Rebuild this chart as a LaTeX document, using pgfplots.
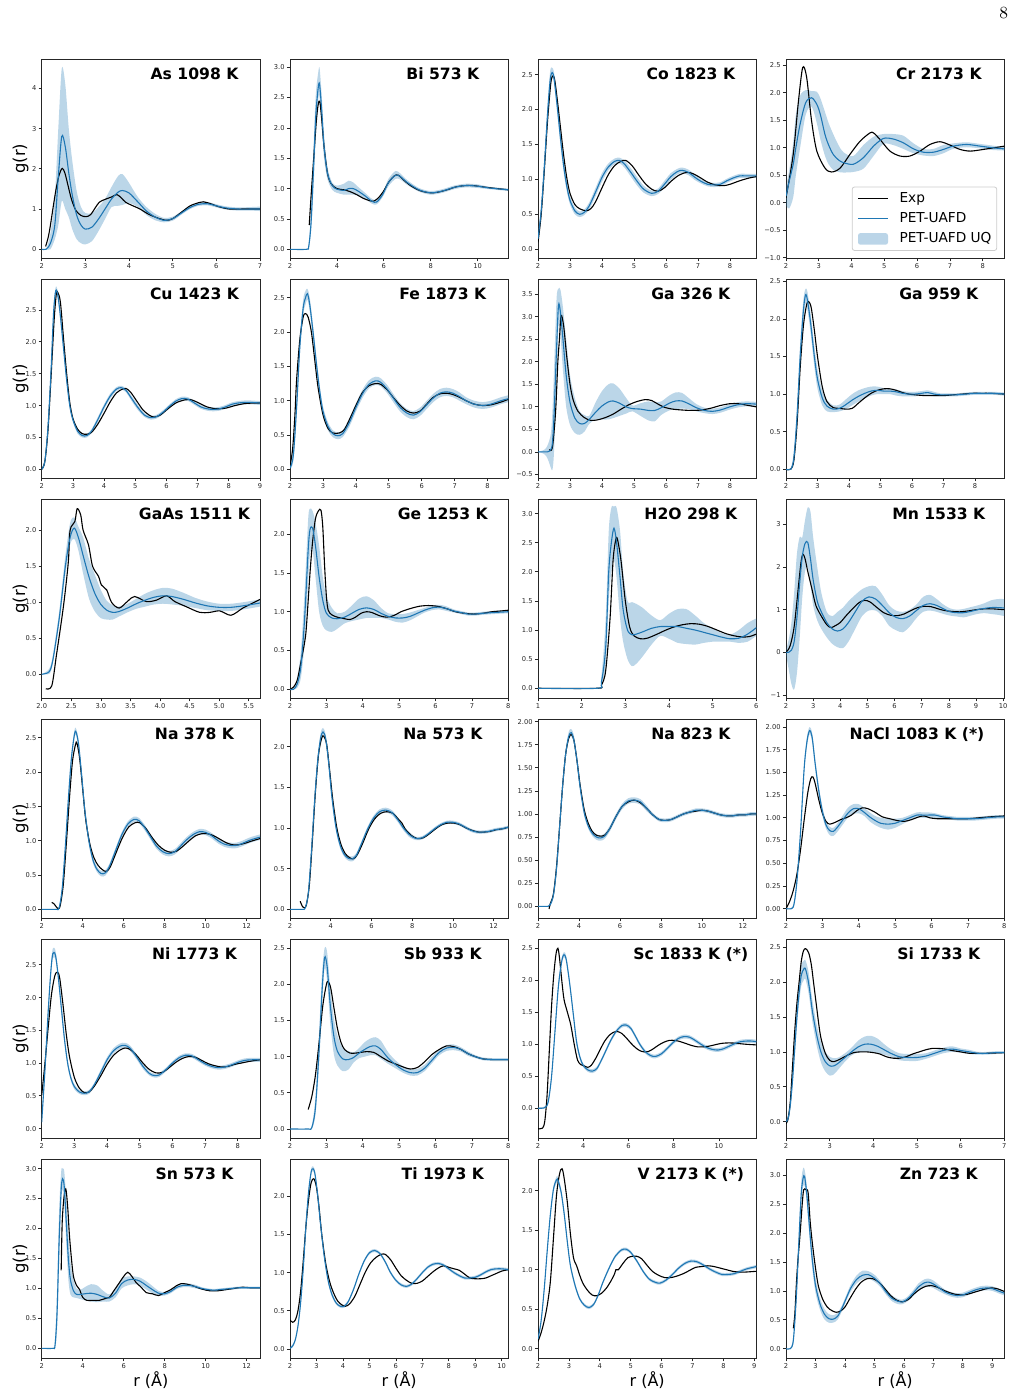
\documentclass[border=0pt]{standalone}
\usepackage{pgfplots}
\pgfplotsset{compat=1.18}
\usepackage{pgfplotstable}
\usepgfplotslibrary{fillbetween}
\usepackage{fontspec}
\newfontfamily\dejavu{DejaVu Sans}
\definecolor{tabblue}{HTML}{1F77B4}

% ---------- PET-UAFD tables: r, mean g(r), lower and upper UQ bound ----------
% ---------- Exp tables: r, measured g(r) ----------
\pgfplotstableread{
r p lo hi
2.00 0 0 0
2.10 0 0 0
2.20 0.15 0 0.4
2.30 0.6 0.25 1.3
2.38 1.8 0.6 3.0
2.46 2.81 1.2 4.5
2.54 2.55 1.0 4.1
2.62 1.9 0.8 3.0
2.70 1.35 0.5 2.2
2.80 0.85 0.25 1.45
2.90 0.6 0.15 1.05
3.00 0.5 0.12 0.9
3.15 0.55 0.2 0.9
3.30 0.75 0.45 1.05
3.45 1.0 0.75 1.25
3.60 1.25 1.05 1.55
3.75 1.42 1.08 1.82
3.85 1.46 1.1 1.87
4.00 1.4 1.15 1.65
4.20 1.18 1.05 1.3
4.40 0.95 0.85 1.05
4.60 0.8 0.72 0.88
4.80 0.72 0.67 0.78
5.00 0.76 0.71 0.81
5.20 0.9 0.86 0.94
5.40 1.04 1.0 1.08
5.60 1.12 1.08 1.16
5.80 1.13 1.09 1.17
6.00 1.08 1.04 1.12
6.20 1.03 0.99 1.07
6.50 1.0 0.96 1.04
6.80 1.0 0.96 1.05
7.00 1.0 0.95 1.06
}\pAs
\pgfplotstableread{
r e
2.09 0.07
2.15 0.3
2.20 0.6
2.27 1.1
2.33 1.5
2.40 1.85
2.47 2.01
2.53 1.9
2.60 1.6
2.68 1.25
2.78 0.97
2.90 0.84
3.02 0.81
3.12 0.86
3.22 1.02
3.32 1.17
3.45 1.24
3.60 1.3
3.72 1.36
3.82 1.28
3.92 1.17
4.05 1.1
4.25 1.0
4.45 0.87
4.65 0.78
4.85 0.72
5.00 0.76
5.20 0.92
5.40 1.08
5.60 1.16
5.70 1.18
5.85 1.14
6.05 1.06
6.30 1.0
6.60 1.0
7.00 1.0
}\eAs

\pgfplotstableread{
r p lo hi
2.0 0 0 0
2.7 0 0 0
2.8 0.05 0.02 0.12
2.9 0.45 0.3 0.65
3.0 1.3 1.0 1.65
3.1 2.2 1.85 2.55
3.2 2.65 2.45 2.9
3.26 2.72 2.5 2.99
3.35 2.3 2.05 2.55
3.45 1.7 1.5 1.9
3.6 1.25 1.15 1.35
3.8 1.05 0.98 1.1
4.0 0.99 0.93 1.05
4.3 0.97 0.9 1.08
4.5 1.0 0.9 1.13
4.7 1.0 0.9 1.1
4.9 0.96 0.88 1.03
5.2 0.88 0.83 0.93
5.5 0.79 0.75 0.83
5.7 0.78 0.74 0.82
5.95 0.9 0.86 0.94
6.2 1.1 1.04 1.16
6.5 1.22 1.16 1.29
6.7 1.2 1.15 1.25
7.0 1.1 1.06 1.14
7.5 0.98 0.95 1.01
8.0 0.93 0.9 0.96
8.5 0.96 0.93 0.99
9.0 1.02 0.99 1.05
9.5 1.05 1.02 1.08
10.0 1.04 1.01 1.07
10.5 1.01 0.99 1.03
11.31 0.98 0.96 1.0
}\pBi
\pgfplotstableread{
r e
2.82 0.4
2.92 1.0
3.02 1.55
3.12 2.1
3.2 2.38
3.27 2.44
3.35 2.15
3.45 1.7
3.6 1.25
3.75 1.08
4.0 1.0
4.3 0.98
4.56 0.95
4.85 0.9
5.12 0.84
5.4 0.8
5.55 0.79
5.75 0.84
5.98 0.95
6.2 1.1
6.45 1.21
6.62 1.22
6.85 1.14
7.1 1.06
7.4 0.99
7.68 0.95
8.0 0.93
8.3 0.94
8.7 0.98
9.1 1.03
9.5 1.05
9.8 1.05
10.2 1.03
10.6 1.01
11.31 0.98
}\eBi

\pgfplotstableread{
r p lo hi
2.0 0.15 0.1 0.2
2.1 0.55 0.45 0.65
2.2 1.2 1.08 1.32
2.3 1.95 1.82 2.08
2.38 2.42 2.32 2.55
2.44 2.53 2.45 2.6
2.5 2.45 2.37 2.53
2.6 2.05 1.95 2.15
2.7 1.6 1.5 1.7
2.8 1.2 1.11 1.29
2.9 0.9 0.83 0.97
3.0 0.7 0.64 0.76
3.15 0.55 0.5 0.6
3.3 0.5 0.46 0.54
3.45 0.53 0.49 0.57
3.6 0.62 0.57 0.67
3.8 0.82 0.76 0.88
4.0 1.03 0.97 1.09
4.2 1.18 1.13 1.23
4.4 1.26 1.22 1.3
4.55 1.27 1.23 1.31
4.7 1.22 1.17 1.27
4.9 1.1 1.04 1.16
5.1 0.97 0.91 1.03
5.3 0.86 0.81 0.91
5.55 0.8 0.76 0.84
5.75 0.83 0.79 0.87
5.95 0.93 0.88 0.98
6.15 1.04 0.99 1.09
6.35 1.11 1.07 1.15
6.5 1.13 1.09 1.17
6.7 1.1 1.06 1.14
6.9 1.03 0.99 1.07
7.1 0.97 0.94 1.0
7.3 0.93 0.9 0.96
7.5 0.92 0.89 0.95
7.7 0.93 0.9 0.96
7.9 0.98 0.95 1.01
8.1 1.02 0.99 1.05
8.3 1.05 1.02 1.08
8.5 1.05 1.02 1.08
8.82 1.05 1.02 1.08
}\pCo
\pgfplotstableread{
r e
2.0 0.1
2.1 0.5
2.2 1.15
2.3 1.85
2.4 2.38
2.46 2.48
2.52 2.43
2.6 2.15
2.7 1.75
2.8 1.35
2.9 1.02
3.0 0.8
3.15 0.64
3.3 0.58
3.5 0.55
3.65 0.58
3.8 0.68
4.0 0.88
4.2 1.07
4.4 1.2
4.6 1.26
4.75 1.27
4.95 1.19
5.15 1.06
5.35 0.94
5.55 0.86
5.75 0.83
5.95 0.88
6.15 0.97
6.4 1.06
6.65 1.1
6.85 1.08
7.05 1.03
7.3 0.96
7.55 0.92
7.8 0.91
8.0 0.93
8.3 0.98
8.6 1.02
8.82 1.04
}\eCo

\pgfplotstableread{
r p lo hi
2.0 0.12 -0.05 0.3
2.1 0.4 -0.1 0.6
2.22 0.7 0.1 1.1
2.3 1.0 0.5 1.6
2.43 1.43 1.0 1.95
2.6 1.82 1.6 2.05
2.78 1.91 1.75 2.03
2.94 1.79 1.45 2.02
3.05 1.6 1.15 1.9
3.19 1.24 0.85 1.65
3.3 1.05 0.7 1.45
3.44 0.88 0.6 1.25
3.6 0.78 0.56 1.05
3.75 0.73 0.55 0.92
4.05 0.7 0.56 0.85
4.36 0.82 0.62 1.05
4.67 1.03 0.85 1.2
4.97 1.17 1.07 1.25
5.27 1.16 1.05 1.25
5.58 1.09 0.98 1.22
5.89 0.98 0.9 1.08
6.19 0.92 0.86 0.98
6.5 0.92 0.85 0.98
6.8 0.97 0.9 1.05
7.1 1.03 0.98 1.08
7.51 1.06 1.01 1.1
7.92 1.03 0.99 1.07
8.3 1.0 0.96 1.04
8.66 0.98 0.95 1.01
}\pCr
\pgfplotstableread{
r e
2.0 0.09
2.22 0.88
2.38 1.85
2.51 2.46
2.63 2.28
2.78 1.49
2.94 0.94
3.19 0.63
3.39 0.56
3.65 0.63
3.95 0.88
4.26 1.12
4.56 1.27
4.67 1.27
4.87 1.15
5.17 0.94
5.48 0.85
5.78 0.85
6.09 0.94
6.39 1.06
6.7 1.11
7.0 1.05
7.31 0.97
7.62 0.94
8.02 0.97
8.66 1.03
}\eCr

\pgfplotstableread{
r p lo hi
2.0 0.0 0.0 0.02
2.1 0.12 0.08 0.17
2.2 0.65 0.58 0.72
2.3 1.55 1.47 1.63
2.38 2.45 2.38 2.53
2.45 2.8 2.74 2.86
2.52 2.72 2.66 2.78
2.6 2.4 2.33 2.47
2.7 1.9 1.83 1.97
2.8 1.4 1.34 1.46
2.9 1.0 0.95 1.05
3.0 0.78 0.74 0.82
3.15 0.6 0.56 0.64
3.3 0.53 0.5 0.56
3.45 0.53 0.5 0.56
3.6 0.6 0.57 0.63
3.8 0.78 0.74 0.82
4.0 0.98 0.94 1.02
4.2 1.15 1.11 1.19
4.4 1.26 1.23 1.29
4.55 1.28 1.25 1.31
4.7 1.24 1.21 1.27
4.9 1.1 1.06 1.14
5.1 0.96 0.92 1.0
5.3 0.85 0.82 0.88
5.5 0.81 0.78 0.84
5.7 0.83 0.8 0.86
5.9 0.9 0.87 0.93
6.1 0.99 0.96 1.02
6.3 1.07 1.04 1.1
6.5 1.11 1.08 1.14
6.7 1.1 1.07 1.13
6.9 1.04 1.01 1.07
7.1 0.98 0.95 1.01
7.3 0.95 0.92 0.98
7.5 0.94 0.91 0.97
7.7 0.95 0.92 0.98
7.9 0.98 0.95 1.01
8.1 1.02 0.99 1.05
8.3 1.04 1.01 1.07
8.5 1.05 1.02 1.08
8.7 1.05 1.02 1.08
9.0 1.04 1.01 1.07
}\pCu
\pgfplotstableread{
r e
2.0 0.0
2.1 0.12
2.2 0.6
2.3 1.45
2.4 2.35
2.47 2.75
2.52 2.77
2.6 2.62
2.7 2.05
2.8 1.5
2.9 1.05
3.0 0.8
3.15 0.63
3.3 0.56
3.45 0.55
3.6 0.58
3.8 0.71
4.0 0.88
4.2 1.06
4.4 1.2
4.6 1.26
4.7 1.27
4.85 1.21
5.05 1.07
5.25 0.93
5.45 0.85
5.6 0.82
5.8 0.85
6.0 0.93
6.3 1.04
6.6 1.09
6.8 1.09
7.0 1.05
7.3 0.98
7.6 0.95
7.9 0.96
8.2 1.0
8.5 1.03
8.8 1.04
9.0 1.04
}\eCu

\pgfplotstableread{
r p lo hi
2.0 0.02 0.0 0.06
2.1 0.2 0.12 0.3
2.2 0.9 0.78 1.02
2.3 1.8 1.68 1.92
2.4 2.35 2.25 2.47
2.47 2.5 2.4 2.6
2.53 2.56 2.47 2.63
2.6 2.4 2.3 2.5
2.7 2.0 1.9 2.1
2.8 1.55 1.46 1.64
2.9 1.15 1.07 1.23
3.0 0.85 0.78 0.92
3.15 0.63 0.57 0.69
3.3 0.52 0.47 0.57
3.45 0.49 0.44 0.54
3.6 0.52 0.47 0.57
3.8 0.68 0.62 0.74
4.0 0.9 0.84 0.96
4.2 1.1 1.04 1.16
4.4 1.24 1.18 1.3
4.6 1.29 1.23 1.35
4.75 1.27 1.21 1.33
4.95 1.17 1.11 1.23
5.15 1.03 0.97 1.09
5.35 0.9 0.84 0.96
5.55 0.82 0.76 0.88
5.75 0.79 0.73 0.85
5.95 0.84 0.78 0.9
6.15 0.94 0.88 1.0
6.35 1.04 0.98 1.1
6.55 1.11 1.05 1.17
6.75 1.13 1.07 1.19
6.95 1.11 1.05 1.17
7.15 1.06 1.0 1.12
7.35 1.0 0.95 1.05
7.6 0.95 0.9 1.0
7.85 0.93 0.88 0.98
8.1 0.95 0.9 1.0
8.4 1.0 0.95 1.05
8.63 1.03 0.98 1.08
}\pFe
\pgfplotstableread{
r e
2.0 0.05
2.08 0.3
2.15 0.8
2.2 1.3
2.3 1.9
2.4 2.22
2.47 2.27
2.55 2.22
2.65 2.0
2.75 1.6
2.85 1.2
3.0 0.8
3.15 0.6
3.3 0.53
3.5 0.53
3.65 0.58
3.8 0.72
4.0 0.93
4.2 1.12
4.4 1.22
4.6 1.25
4.75 1.24
4.95 1.16
5.15 1.04
5.35 0.93
5.55 0.85
5.75 0.82
5.95 0.85
6.15 0.95
6.35 1.05
6.55 1.1
6.75 1.11
6.95 1.09
7.15 1.05
7.35 1.0
7.6 0.95
7.85 0.93
8.1 0.94
8.4 0.98
8.63 1.02
}\eFe

\pgfplotstableread{
r p lo hi
2.0 0 0 0
2.2 0 -0.05 0.05
2.3 0 -0.15 0.15
2.4 0.05 -0.35 0.4
2.45 0.2 -0.4 0.9
2.5 0.8 0.0 1.8
2.58 2.3 1.5 3.4
2.64 3.25 2.8 3.62
2.7 3.1 2.6 3.6
2.78 2.5 1.8 3.2
2.88 1.7 1.0 2.5
3.0 1.1 0.6 1.7
3.15 0.75 0.42 1.2
3.3 0.63 0.38 0.9
3.45 0.63 0.45 0.82
3.6 0.72 0.62 0.8
3.8 0.88 0.72 1.1
4.0 1.02 0.72 1.35
4.2 1.11 0.72 1.5
4.35 1.13 0.75 1.52
4.55 1.08 0.8 1.4
4.75 1.0 0.85 1.2
4.95 0.96 0.9 1.03
5.2 0.95 0.8 1.08
5.45 0.92 0.7 1.12
5.65 0.92 0.68 1.1
5.85 0.98 0.82 1.12
6.1 1.08 0.92 1.25
6.3 1.13 0.95 1.32
6.5 1.13 0.96 1.31
6.7 1.07 0.95 1.2
6.95 0.98 0.9 1.06
7.2 0.92 0.86 0.98
7.45 0.9 0.84 0.96
7.7 0.93 0.87 0.99
7.95 0.99 0.93 1.05
8.2 1.04 0.98 1.1
8.5 1.07 1.01 1.12
8.82 1.06 1.0 1.11
}\pGaA
\pgfplotstableread{
r e
2.35 0.05
2.45 0.1
2.55 0.9
2.62 2.0
2.67 2.5
2.72 3.03
2.8 2.8
2.9 2.1
3.0 1.5
3.1 1.15
3.25 0.9
3.45 0.76
3.65 0.7
3.85 0.71
4.1 0.76
4.35 0.84
4.6 0.95
4.85 1.05
5.1 1.12
5.35 1.16
5.55 1.14
5.75 1.06
5.95 0.99
6.2 0.95
6.5 0.93
6.8 0.92
7.1 0.93
7.4 0.97
7.7 1.03
8.0 1.07
8.25 1.07
8.5 1.04
8.82 1.0
}\eGaA

\pgfplotstableread{
r p lo hi
2.0 0 0 0
2.15 0 0 0.01
2.25 0.15 0.08 0.25
2.35 0.7 0.55 0.85
2.45 1.5 1.33 1.67
2.55 2.1 1.95 2.25
2.62 2.32 2.2 2.4
2.68 2.25 2.12 2.36
2.78 1.95 1.82 2.08
2.9 1.5 1.36 1.64
3.0 1.2 1.07 1.33
3.15 0.95 0.85 1.05
3.3 0.84 0.77 0.92
3.5 0.8 0.76 0.85
3.7 0.81 0.77 0.86
3.9 0.86 0.8 0.93
4.1 0.92 0.85 1.0
4.3 0.97 0.9 1.05
4.5 1.01 0.94 1.08
4.7 1.04 0.98 1.1
4.9 1.05 1.0 1.1
5.1 1.04 1.0 1.08
5.3 1.04 1.0 1.07
5.5 1.03 0.98 1.06
5.7 1.01 0.97 1.04
5.9 1.0 0.97 1.03
6.1 1.0 0.97 1.03
6.3 1.01 0.98 1.04
6.5 1.02 0.98 1.05
6.7 1.0 0.97 1.03
6.9 0.99 0.97 1.01
7.1 0.99 0.97 1.01
7.4 0.99 0.97 1.01
7.7 1.0 0.98 1.02
8.0 1.01 0.99 1.03
8.3 1.01 0.99 1.03
8.6 1.01 0.99 1.03
8.93 1.0 0.98 1.02
}\pGaB
\pgfplotstableread{
r e
2.0 0
2.15 0
2.25 0.12
2.35 0.6
2.45 1.35
2.55 1.9
2.65 2.18
2.72 2.23
2.8 2.15
2.9 1.85
3.0 1.5
3.15 1.1
3.3 0.9
3.5 0.82
3.7 0.81
3.9 0.8
4.1 0.81
4.3 0.88
4.5 0.95
4.7 1.01
4.9 1.05
5.1 1.07
5.3 1.07
5.5 1.05
5.7 1.02
5.9 1.0
6.1 0.99
6.4 0.98
6.7 0.98
7.0 0.98
7.3 0.99
7.6 1.0
7.9 1.01
8.2 1.01
8.5 1.01
8.93 1.0
}\eGaB

\pgfplotstableread{
r p lo hi
2.0 0.0 0 0
2.1 0.02 0 0.05
2.15 0.07 0.03 0.12
2.2 0.25 0.2 0.32
2.3 0.8 0.72 0.9
2.4 1.5 1.38 1.65
2.48 1.9 1.8 2.1
2.55 2.03 1.88 2.18
2.62 1.9 1.72 2.05
2.7 1.65 1.4 1.9
2.8 1.35 1.05 1.6
2.9 1.12 0.87 1.38
3.0 0.97 0.78 1.17
3.1 0.89 0.76 1.02
3.2 0.86 0.76 0.96
3.3 0.87 0.8 0.94
3.45 0.92 0.86 0.98
3.6 0.98 0.91 1.05
3.75 1.03 0.94 1.12
3.9 1.07 0.97 1.17
4.05 1.09 0.98 1.2
4.2 1.08 0.97 1.19
4.4 1.04 0.95 1.13
4.6 0.99 0.92 1.06
4.8 0.95 0.89 1.01
5.0 0.93 0.88 0.98
5.2 0.93 0.88 0.98
5.4 0.95 0.9 1.0
5.55 0.97 0.92 1.02
5.69 0.99 0.94 1.04
}\pGaAs
\pgfplotstableread{
r e
2.07 -0.2
2.17 -0.16
2.25 0.27
2.37 0.96
2.45 1.56
2.48 2.0
2.56 2.12
2.6 2.3
2.66 2.21
2.7 2.0
2.79 1.8
2.86 1.5
2.96 1.36
3.01 1.24
3.1 1.17
3.18 1.0
3.31 0.92
3.46 1.02
3.57 1.08
3.77 1.01
3.94 1.03
4.11 1.09
4.25 1.01
4.44 0.94
4.67 0.86
4.84 0.86
5.01 0.88
5.2 0.82
5.4 0.92
5.57 0.99
5.69 1.04
}\eGaAs

\pgfplotstableread{
r p lo hi
2.0 0 0 0
2.1 0.0 0 0.02
2.2 0.07 0.02 0.15
2.3 0.3 0.15 0.5
2.4 0.9 0.6 1.25
2.5 1.8 1.4 2.2
2.55 2.06 1.75 2.33
2.62 2.08 1.8 2.3
2.7 1.85 1.45 2.15
2.8 1.45 1.0 1.85
2.9 1.15 0.82 1.45
3.0 0.98 0.76 1.2
3.15 0.92 0.74 1.05
3.3 0.91 0.78 0.98
3.5 0.93 0.85 1.0
3.7 0.98 0.88 1.08
3.9 1.03 0.9 1.17
4.1 1.05 0.92 1.2
4.3 1.03 0.92 1.15
4.5 0.98 0.92 1.05
4.7 0.94 0.9 0.98
4.9 0.92 0.87 0.97
5.1 0.92 0.86 0.97
5.3 0.94 0.89 0.99
5.5 0.98 0.94 1.02
5.7 1.02 0.99 1.05
5.9 1.05 1.02 1.08
6.1 1.06 1.03 1.09
6.3 1.04 1.01 1.07
6.5 1.01 0.99 1.03
6.7 0.99 0.97 1.01
6.9 0.97 0.95 0.99
7.1 0.97 0.95 0.99
7.3 0.98 0.96 1.0
7.6 0.99 0.97 1.01
8.0 1.0 0.98 1.02
}\pGe
\pgfplotstableread{
r e
2.0 0.0
2.1 0.03
2.2 0.12
2.3 0.35
2.4 0.6
2.45 0.8
2.55 1.5
2.62 1.9
2.7 2.2
2.78 2.3
2.85 2.31
2.9 2.1
2.95 1.6
3.0 1.2
3.05 1.02
3.15 0.96
3.3 0.93
3.5 0.91
3.65 0.9
3.8 0.93
3.95 0.98
4.1 1.0
4.25 0.99
4.45 0.95
4.65 0.93
4.85 0.95
5.05 1.0
5.3 1.04
5.55 1.07
5.8 1.08
6.05 1.07
6.3 1.04
6.55 1.0
6.8 0.98
7.05 0.97
7.3 0.98
7.55 1.0
7.8 1.01
8.0 1.02
}\eGe

\pgfplotstableread{
r p lo hi
1.0 0 0 0
2.35 0 0 0
2.45 0.1 0.05 0.2
2.55 0.7 0.4 1.2
2.62 2.0 1.5 2.7
2.68 2.5 2.0 3.1
2.74 2.75 2.2 3.12
2.8 2.5 1.9 3.1
2.88 1.9 1.2 2.7
2.95 1.35 0.8 2.0
3.05 1.0 0.5 1.5
3.15 0.92 0.38 1.48
3.25 0.93 0.42 1.45
3.4 0.97 0.55 1.38
3.6 1.03 0.75 1.25
3.8 1.06 0.9 1.17
4.0 1.06 0.85 1.28
4.2 1.06 0.78 1.36
4.4 1.03 0.76 1.36
4.6 1.0 0.75 1.25
4.8 0.96 0.78 1.12
5.0 0.92 0.8 1.03
5.2 0.88 0.8 0.95
5.4 0.85 0.8 0.92
5.6 0.86 0.78 1.0
5.8 0.93 0.8 1.12
6.0 1.04 0.9 1.2
}\pHO
\pgfplotstableread{
r e
1.0 0
2.35 0
2.45 0.05
2.55 0.3
2.65 1.2
2.72 2.2
2.78 2.55
2.82 2.56
2.9 2.2
3.0 1.5
3.1 1.05
3.2 0.9
3.35 0.85
3.5 0.86
3.7 0.92
3.9 0.99
4.1 1.05
4.3 1.09
4.5 1.11
4.7 1.1
4.9 1.06
5.1 1.0
5.3 0.94
5.5 0.9
5.7 0.88
5.85 0.89
6.0 0.93
}\eHO

\pgfplotstableread{
r p lo hi
2.0 0.0 -0.05 0.05
2.1 0.0 -0.4 0.3
2.2 0.05 -0.75 0.7
2.3 0.25 -0.87 1.4
2.4 0.8 -0.5 2.3
2.5 1.6 0.3 2.7
2.6 2.25 1.3 2.7
2.7 2.55 1.9 3.1
2.8 2.58 2.0 3.4
2.9 2.2 1.6 3.3
3.0 1.7 1.1 2.7
3.15 1.2 0.75 2.0
3.3 0.95 0.55 1.4
3.5 0.7 0.35 0.95
3.7 0.55 0.2 0.85
3.9 0.5 0.12 0.95
4.1 0.55 0.1 1.05
4.3 0.7 0.25 1.2
4.55 0.95 0.55 1.35
4.8 1.2 0.85 1.48
5.05 1.3 0.98 1.55
5.3 1.25 0.98 1.55
5.55 1.1 0.85 1.35
5.8 0.93 0.62 1.1
6.05 0.82 0.52 0.98
6.3 0.79 0.47 0.95
6.55 0.85 0.6 1.0
6.8 0.98 0.8 1.12
7.05 1.1 0.95 1.3
7.3 1.14 0.98 1.35
7.55 1.1 0.95 1.25
7.8 1.02 0.9 1.12
8.05 0.95 0.86 1.03
8.3 0.93 0.84 1.0
8.55 0.93 0.82 1.02
8.8 0.96 0.86 1.06
9.05 1.0 0.9 1.1
9.3 1.03 0.92 1.15
9.55 1.05 0.9 1.22
9.8 1.05 0.88 1.25
10.04 1.04 0.85 1.25
}\pMn
\pgfplotstableread{
r e
2.0 0.0
2.15 0.15
2.3 0.6
2.45 1.5
2.55 2.1
2.62 2.3
2.7 2.2
2.8 1.9
2.95 1.5
3.1 1.1
3.3 0.85
3.5 0.65
3.65 0.58
3.8 0.62
4.0 0.7
4.2 0.85
4.45 1.02
4.7 1.17
4.9 1.22
5.1 1.18
5.35 1.05
5.6 0.93
5.85 0.87
6.1 0.86
6.35 0.9
6.6 0.98
6.85 1.05
7.1 1.08
7.35 1.07
7.6 1.02
7.85 0.98
8.1 0.96
8.4 0.95
8.7 0.97
9.0 1.0
9.3 1.02
9.6 1.02
10.04 1.0
}\eMn

\pgfplotstableread{
r p lo hi
2.0 0 0 0
2.7 0 0 0
2.85 0.02 0 0.05
3.0 0.3 0.25 0.36
3.15 0.9 0.83 0.97
3.3 1.6 1.52 1.68
3.45 2.2 2.13 2.27
3.6 2.55 2.5 2.61
3.68 2.58 2.53 2.63
3.8 2.4 2.34 2.46
3.95 1.95 1.88 2.02
4.1 1.45 1.38 1.52
4.3 1.0 0.94 1.06
4.5 0.72 0.67 0.77
4.7 0.58 0.54 0.62
4.9 0.52 0.48 0.56
5.1 0.53 0.49 0.57
5.3 0.62 0.58 0.66
5.6 0.85 0.81 0.89
5.9 1.08 1.04 1.12
6.2 1.24 1.2 1.28
6.5 1.31 1.27 1.35
6.75 1.29 1.25 1.33
7.0 1.2 1.16 1.24
7.3 1.06 1.02 1.1
7.6 0.92 0.88 0.96
7.9 0.84 0.8 0.88
8.2 0.81 0.77 0.85
8.5 0.84 0.8 0.88
8.8 0.93 0.89 0.97
9.1 1.02 0.98 1.06
9.4 1.09 1.05 1.13
9.7 1.13 1.09 1.17
10.0 1.12 1.08 1.16
10.3 1.07 1.03 1.11
10.6 1.0 0.96 1.04
10.9 0.95 0.91 0.99
11.2 0.93 0.89 0.97
11.5 0.93 0.89 0.97
11.8 0.96 0.92 1.0
12.1 1.0 0.96 1.04
12.4 1.03 0.99 1.07
12.65 1.05 1.01 1.09
}\pNaA
\pgfplotstableread{
r e
2.49 0.1
2.6 0.08
2.7 0.04
2.8 0.01
2.9 0.05
3.05 0.35
3.2 0.95
3.35 1.6
3.5 2.15
3.65 2.4
3.72 2.42
3.85 2.2
4.0 1.75
4.15 1.3
4.35 0.95
4.55 0.75
4.75 0.64
4.95 0.58
5.15 0.55
5.35 0.62
5.65 0.84
5.95 1.05
6.25 1.2
6.55 1.26
6.8 1.26
7.1 1.17
7.4 1.04
7.7 0.93
8.0 0.86
8.3 0.83
8.6 0.85
8.9 0.92
9.2 1.0
9.5 1.07
9.8 1.1
10.1 1.1
10.4 1.07
10.7 1.02
11.0 0.97
11.3 0.94
11.6 0.94
11.9 0.96
12.2 0.99
12.65 1.03
}\eNaA

\pgfplotstableread{
r p lo hi
2.0 0 0 0
2.6 0 0 0
2.75 0.02 0 0.04
2.9 0.2 0.16 0.24
3.05 0.7 0.65 0.75
3.2 1.3 1.24 1.36
3.35 1.8 1.74 1.86
3.5 2.1 2.05 2.16
3.62 2.18 2.14 2.23
3.75 2.1 2.05 2.15
3.9 1.8 1.74 1.86
4.05 1.4 1.34 1.46
4.25 1.02 0.97 1.07
4.45 0.8 0.76 0.84
4.65 0.68 0.65 0.71
4.85 0.63 0.6 0.66
5.05 0.62 0.59 0.65
5.25 0.66 0.63 0.69
5.5 0.8 0.77 0.83
5.8 0.98 0.95 1.01
6.1 1.12 1.09 1.15
6.4 1.2 1.17 1.23
6.7 1.22 1.19 1.25
7.0 1.19 1.16 1.22
7.3 1.1 1.07 1.13
7.6 0.99 0.96 1.02
7.9 0.91 0.88 0.94
8.2 0.87 0.85 0.89
8.5 0.88 0.86 0.9
8.8 0.93 0.91 0.95
9.1 0.99 0.97 1.01
9.4 1.04 1.02 1.06
9.7 1.07 1.05 1.09
10.0 1.07 1.05 1.09
10.3 1.05 1.03 1.07
10.6 1.01 0.99 1.03
10.9 0.97 0.95 0.99
11.2 0.95 0.93 0.97
11.5 0.95 0.93 0.97
11.8 0.96 0.94 0.98
12.1 0.98 0.96 1.0
12.4 0.99 0.97 1.01
12.72 1.01 0.99 1.03
}\pNaB
\pgfplotstableread{
r e
2.5 0.1
2.6 0.04
2.7 0.02
2.8 0.05
2.95 0.3
3.1 0.85
3.25 1.45
3.4 1.9
3.55 2.1
3.65 2.13
3.8 2.03
3.95 1.7
4.1 1.35
4.3 1.0
4.5 0.8
4.7 0.69
4.9 0.64
5.1 0.62
5.3 0.67
5.55 0.8
5.85 0.98
6.15 1.11
6.45 1.18
6.75 1.2
7.05 1.18
7.35 1.1
7.5 1.06
7.65 0.99
7.95 0.91
8.25 0.87
8.55 0.88
8.85 0.93
9.15 0.99
9.45 1.04
9.75 1.06
10.05 1.06
10.35 1.04
10.65 1.0
10.95 0.97
11.25 0.95
11.55 0.95
11.85 0.96
12.15 0.98
12.45 0.99
12.72 1.01
}\eNaB

\pgfplotstableread{
r p lo hi
2.0 0 0 0
2.5 0 0 0
2.6 0.02 0 0.04
2.75 0.12 0.09 0.15
2.9 0.4 0.36 0.44
3.05 0.85 0.8 0.9
3.2 1.3 1.25 1.35
3.35 1.65 1.6 1.7
3.5 1.84 1.8 1.89
3.62 1.88 1.84 1.92
3.75 1.8 1.76 1.85
3.9 1.58 1.53 1.63
4.05 1.3 1.25 1.35
4.25 1.02 0.98 1.06
4.45 0.87 0.84 0.9
4.65 0.79 0.76 0.82
4.85 0.75 0.72 0.78
5.05 0.74 0.71 0.77
5.25 0.76 0.73 0.79
5.5 0.84 0.81 0.87
5.8 0.97 0.94 1.0
6.1 1.08 1.05 1.11
6.4 1.14 1.11 1.17
6.7 1.15 1.12 1.18
7.0 1.13 1.1 1.16
7.3 1.06 1.03 1.09
7.6 0.99 0.97 1.01
7.9 0.94 0.92 0.96
8.2 0.93 0.91 0.95
8.5 0.94 0.92 0.96
8.8 0.97 0.95 0.99
9.1 1.0 0.98 1.02
9.4 1.02 1.0 1.04
9.7 1.04 1.02 1.06
10.0 1.04 1.02 1.06
10.3 1.03 1.01 1.05
10.6 1.01 0.99 1.03
10.9 0.99 0.97 1.01
11.2 0.98 0.96 1.0
11.5 0.98 0.96 1.0
11.8 0.99 0.97 1.01
12.1 0.99 0.97 1.01
12.4 1.0 0.98 1.02
12.65 1.0 0.98 1.02
}\pNaC
\pgfplotstableread{
r e
2.54 -0.03
2.6 0.03
2.75 0.13
2.9 0.42
3.05 0.85
3.2 1.3
3.35 1.65
3.5 1.82
3.62 1.86
3.75 1.8
3.9 1.58
4.05 1.32
4.25 1.05
4.45 0.9
4.65 0.81
4.85 0.77
5.05 0.76
5.25 0.77
5.5 0.84
5.8 0.97
6.1 1.08
6.4 1.13
6.7 1.15
7.0 1.12
7.3 1.06
7.6 0.99
7.9 0.94
8.2 0.93
8.5 0.94
8.8 0.97
9.1 1.0
9.4 1.02
9.7 1.03
10.0 1.04
10.3 1.03
10.6 1.01
10.9 0.99
11.2 0.98
11.5 0.98
11.8 0.99
12.1 0.99
12.4 1.0
12.65 1.0
}\eNaC

\pgfplotstableread{
r p lo hi
2.0 0 0 0
2.15 0 0 0.01
2.22 0.05 0.03 0.08
2.3 0.3 0.26 0.35
2.4 0.85 0.8 0.9
2.5 1.55 1.5 1.6
2.58 1.85 1.8 1.9
2.65 1.96 1.92 2.0
2.72 1.88 1.83 1.93
2.8 1.6 1.55 1.65
2.9 1.3 1.25 1.35
3.0 1.07 1.02 1.12
3.1 0.92 0.88 0.97
3.2 0.86 0.81 0.9
3.3 0.85 0.8 0.89
3.4 0.89 0.84 0.93
3.55 0.97 0.92 1.02
3.7 1.05 1.0 1.11
3.85 1.1 1.04 1.15
4.0 1.1 1.05 1.15
4.15 1.06 1.02 1.11
4.3 1.01 0.96 1.06
4.45 0.97 0.92 1.02
4.6 0.94 0.89 1.0
4.8 0.93 0.87 0.99
5.0 0.94 0.89 0.99
5.2 0.97 0.93 1.0
5.4 1.0 0.97 1.03
5.6 1.03 1.0 1.06
5.75 1.03 1.0 1.06
5.9 1.03 1.0 1.06
6.1 1.03 1.0 1.05
6.3 1.01 0.99 1.03
6.5 1.0 0.98 1.02
6.7 0.99 0.97 1.01
6.9 0.99 0.97 1.01
7.2 0.99 0.97 1.01
7.5 1.0 0.98 1.02
7.8 1.01 0.99 1.03
8.0 1.01 0.99 1.03
}\pNaCl
\pgfplotstableread{
r e
2.0 0.0
2.1 0.08
2.2 0.2
2.3 0.38
2.4 0.65
2.5 0.98
2.6 1.28
2.68 1.43
2.74 1.45
2.8 1.38
2.9 1.2
3.0 1.05
3.1 0.96
3.2 0.93
3.35 0.95
3.5 0.98
3.65 1.0
3.8 1.03
3.95 1.08
4.1 1.11
4.25 1.1
4.45 1.06
4.65 1.01
4.85 0.99
5.05 0.97
5.25 0.96
5.45 0.98
5.65 1.01
5.8 1.02
5.95 1.0
6.15 0.99
6.4 0.99
6.7 0.99
7.0 0.99
7.3 1.0
7.6 1.01
8.0 1.02
}\eNaCl

\pgfplotstableread{
r p lo hi
2.0 0.1 0.05 0.15
2.1 0.9 0.8 1.0
2.2 1.8 1.7 1.9
2.28 2.4 2.32 2.5
2.34 2.67 2.6 2.75
2.42 2.65 2.58 2.72
2.5 2.35 2.28 2.42
2.6 1.85 1.78 1.92
2.7 1.35 1.29 1.41
2.8 0.98 0.93 1.03
2.9 0.76 0.72 0.8
3.0 0.64 0.6 0.68
3.15 0.56 0.53 0.59
3.3 0.54 0.51 0.57
3.45 0.56 0.53 0.59
3.6 0.66 0.63 0.69
3.8 0.85 0.81 0.89
4.0 1.05 1.01 1.09
4.2 1.19 1.15 1.23
4.4 1.26 1.22 1.3
4.55 1.27 1.23 1.31
4.7 1.23 1.19 1.27
4.9 1.1 1.06 1.14
5.1 0.95 0.91 0.99
5.3 0.84 0.81 0.87
5.45 0.81 0.78 0.84
5.6 0.82 0.79 0.85
5.8 0.9 0.87 0.93
6.0 1.0 0.97 1.03
6.2 1.08 1.05 1.11
6.4 1.12 1.09 1.15
6.6 1.11 1.08 1.14
6.8 1.05 1.02 1.08
7.0 0.99 0.96 1.02
7.2 0.95 0.92 0.98
7.4 0.93 0.9 0.96
7.6 0.94 0.91 0.97
7.8 0.97 0.94 1.0
8.0 1.01 0.98 1.04
8.2 1.04 1.01 1.07
8.4 1.05 1.02 1.08
8.68 1.05 1.02 1.08
}\pNi
\pgfplotstableread{
r e
2.0 0.51
2.1 1.0
2.2 1.55
2.3 2.05
2.4 2.33
2.48 2.39
2.55 2.3
2.65 1.9
2.75 1.45
2.85 1.1
3.0 0.78
3.15 0.62
3.3 0.55
3.45 0.56
3.6 0.64
3.8 0.8
4.0 0.98
4.2 1.12
4.4 1.2
4.55 1.23
4.7 1.21
4.9 1.12
5.1 1.0
5.3 0.9
5.5 0.85
5.7 0.86
5.9 0.93
6.1 1.01
6.3 1.07
6.5 1.1
6.7 1.09
6.9 1.04
7.1 0.99
7.3 0.96
7.5 0.94
7.7 0.95
7.9 0.98
8.1 1.0
8.4 1.03
8.68 1.05
}\eNi

\pgfplotstableread{
r p lo hi
2.0 0 0 0
2.5 0 0 0
2.6 0.02 0 0.05
2.7 0.3 0.2 0.45
2.8 1.1 0.9 1.35
2.88 1.9 1.7 2.15
2.95 2.37 2.22 2.5
3.02 2.25 2.05 2.45
3.1 1.75 1.5 2.0
3.2 1.3 1.05 1.55
3.3 1.08 0.88 1.3
3.45 0.97 0.8 1.12
3.6 0.96 0.82 1.08
3.75 0.99 0.92 1.06
3.9 1.05 0.98 1.12
4.05 1.1 1.0 1.2
4.2 1.14 1.02 1.25
4.35 1.15 1.02 1.27
4.5 1.1 0.97 1.22
4.7 0.98 0.9 1.06
4.9 0.89 0.84 0.95
5.1 0.82 0.78 0.87
5.3 0.78 0.74 0.83
5.5 0.78 0.74 0.83
5.7 0.84 0.8 0.89
5.9 0.95 0.91 1.0
6.1 1.06 1.02 1.1
6.3 1.12 1.08 1.16
6.5 1.13 1.09 1.17
6.7 1.1 1.07 1.13
6.9 1.04 1.01 1.07
7.1 1.0 0.98 1.02
7.3 0.97 0.95 0.99
7.6 0.96 0.94 0.98
8.0 0.96 0.94 0.98
}\pSb
\pgfplotstableread{
r e
2.5 0.27
2.6 0.45
2.7 0.75
2.8 1.2
2.9 1.7
3.0 2.0
3.05 2.04
3.12 1.95
3.2 1.7
3.3 1.4
3.4 1.2
3.5 1.1
3.65 1.05
3.8 1.05
3.95 1.06
4.1 1.07
4.3 1.06
4.5 1.0
4.7 0.94
4.9 0.9
5.1 0.86
5.3 0.83
5.5 0.85
5.7 0.93
5.9 1.03
6.1 1.1
6.3 1.15
6.5 1.14
6.7 1.1
6.9 1.04
7.1 1.0
7.3 0.97
7.6 0.96
8.0 0.96
}\eSb

\pgfplotstableread{
r p lo hi
2.0 0.0 -0.01 0.01
2.3 0.01 0 0.03
2.45 0.1 0.07 0.14
2.6 0.5 0.45 0.55
2.75 1.2 1.14 1.26
2.9 1.9 1.84 1.96
3.05 2.3 2.25 2.35
3.15 2.4 2.36 2.44
3.25 2.32 2.27 2.37
3.4 1.95 1.9 2.0
3.55 1.5 1.45 1.55
3.7 1.05 1.0 1.1
3.85 0.8 0.76 0.84
4.0 0.67 0.64 0.7
4.2 0.6 0.57 0.63
4.4 0.58 0.55 0.61
4.6 0.62 0.59 0.65
4.8 0.75 0.72 0.78
5.0 0.9 0.87 0.93
5.2 1.05 1.02 1.08
5.45 1.2 1.17 1.23
5.7 1.29 1.26 1.32
5.9 1.3 1.27 1.33
6.1 1.25 1.22 1.28
6.3 1.13 1.1 1.16
6.5 1.0 0.97 1.03
6.75 0.88 0.85 0.91
7.0 0.82 0.79 0.85
7.2 0.81 0.78 0.84
7.45 0.85 0.82 0.88
7.7 0.93 0.9 0.96
7.95 1.02 0.99 1.05
8.2 1.09 1.06 1.12
8.45 1.12 1.09 1.15
8.7 1.11 1.08 1.14
8.95 1.06 1.03 1.09
9.2 1.0 0.97 1.03
9.45 0.95 0.92 0.98
9.7 0.92 0.89 0.95
9.95 0.91 0.88 0.94
10.2 0.93 0.9 0.96
10.45 0.97 0.94 1.0
10.7 1.01 0.98 1.04
10.95 1.04 1.01 1.07
11.2 1.05 1.02 1.08
11.45 1.05 1.02 1.08
11.65 1.04 1.01 1.07
}\pSc
\pgfplotstableread{
r e
2.0 -0.32
2.2 -0.31
2.3 -0.2
2.4 0.2
2.5 0.9
2.6 1.6
2.7 2.1
2.8 2.42
2.88 2.5
2.95 2.35
3.05 2.0
3.15 1.7
3.3 1.5
3.45 1.3
3.6 1.0
3.75 0.75
3.9 0.68
4.05 0.66
4.2 0.64
4.35 0.67
4.55 0.78
4.75 0.92
4.95 1.05
5.15 1.14
5.35 1.19
5.5 1.2
5.7 1.17
5.9 1.1
6.1 1.02
6.3 0.95
6.5 0.9
6.7 0.88
6.9 0.89
7.1 0.93
7.3 0.98
7.55 1.03
7.8 1.06
8.05 1.06
8.3 1.04
8.55 1.01
8.8 0.98
9.05 0.96
9.3 0.96
9.55 0.97
9.8 0.99
10.05 1.01
10.3 1.02
10.6 1.02
10.9 1.01
11.2 1.0
11.65 0.99
}\eSc

\pgfplotstableread{
r p lo hi
2.0 0.0 -0.03 0.03
2.05 0.05 0.0 0.1
2.1 0.25 0.18 0.33
2.15 0.6 0.5 0.7
2.2 1.05 0.93 1.17
2.25 1.5 1.37 1.63
2.3 1.85 1.7 1.98
2.35 2.1 1.95 2.25
2.4 2.18 2.02 2.3
2.44 2.2 2.05 2.32
2.5 2.05 1.9 2.2
2.55 1.85 1.7 2.0
2.6 1.6 1.45 1.76
2.7 1.25 1.1 1.4
2.8 1.0 0.85 1.14
2.9 0.86 0.72 1.0
3.0 0.8 0.66 0.93
3.1 0.8 0.68 0.91
3.2 0.84 0.75 0.92
3.35 0.92 0.86 0.98
3.5 1.0 0.95 1.06
3.65 1.07 0.99 1.16
3.8 1.11 1.0 1.22
3.95 1.11 1.0 1.23
4.1 1.08 0.98 1.19
4.25 1.03 0.96 1.11
4.4 0.98 0.93 1.04
4.6 0.93 0.88 0.98
4.8 0.92 0.87 0.97
5.0 0.92 0.87 0.97
5.2 0.94 0.9 0.98
5.4 0.98 0.94 1.02
5.6 1.02 0.98 1.06
5.8 1.04 1.0 1.08
6.0 1.02 0.99 1.05
6.2 1.0 0.97 1.03
6.4 0.98 0.96 1.0
6.6 0.98 0.96 1.0
6.8 0.99 0.97 1.01
7.0 0.99 0.97 1.01
}\pSi
\pgfplotstableread{
r e
2.0 -0.03
2.05 0.05
2.1 0.3
2.15 0.8
2.2 1.3
2.25 1.7
2.3 2.0
2.35 2.3
2.4 2.45
2.45 2.48
2.52 2.42
2.58 2.25
2.63 2.0
2.7 1.65
2.75 1.4
2.8 1.2
2.9 0.98
3.0 0.88
3.1 0.86
3.25 0.9
3.4 0.95
3.55 0.99
3.7 1.0
3.85 1.0
4.0 0.99
4.15 0.97
4.3 0.93
4.45 0.91
4.6 0.91
4.75 0.93
4.9 0.97
5.05 1.0
5.2 1.03
5.35 1.05
5.5 1.05
5.65 1.04
5.8 1.02
6.0 1.0
6.2 0.98
6.4 0.98
6.6 0.98
7.0 0.99
}\eSi

\pgfplotstableread{
r p lo hi
2.0 0 0 0
2.55 0 0 0
2.65 0.05 0 0.15
2.75 0.6 0.3 1.0
2.85 1.8 1.4 2.3
2.95 2.65 2.4 2.95
3.02 2.83 2.65 3.0
3.1 2.7 2.45 2.95
3.2 2.1 1.75 2.5
3.3 1.5 1.15 1.9
3.4 1.15 0.9 1.45
3.55 0.96 0.85 1.15
3.7 0.9 0.84 1.0
3.9 0.9 0.82 0.98
4.1 0.91 0.8 1.02
4.4 0.92 0.78 1.07
4.7 0.9 0.77 1.05
5.0 0.86 0.78 0.96
5.3 0.84 0.78 0.9
5.6 0.92 0.85 1.0
5.9 1.08 1.0 1.16
6.2 1.14 1.05 1.2
6.5 1.15 1.07 1.2
6.8 1.12 1.05 1.18
7.1 1.05 0.98 1.12
7.4 0.98 0.92 1.04
7.7 0.92 0.88 0.96
8.0 0.91 0.88 0.94
8.3 0.95 0.92 0.98
8.6 1.02 0.99 1.05
8.9 1.05 1.02 1.08
9.2 1.05 1.02 1.08
9.5 1.03 1.0 1.06
9.8 1.0 0.98 1.02
10.1 0.98 0.96 1.0
10.4 0.97 0.95 0.99
10.7 0.98 0.96 1.0
11.0 0.99 0.97 1.01
11.3 1.0 0.98 1.02
11.6 1.01 0.99 1.03
12.0 1.01 0.99 1.03
12.65 1.01 0.99 1.03
}\pSn
\pgfplotstableread{
r e
2.95 1.3
3.0 2.1
3.08 2.5
3.15 2.65
3.2 2.62
3.28 2.3
3.35 1.9
3.45 1.5
3.55 1.2
3.7 1.05
3.85 0.98
4.0 0.85
4.2 0.8
4.5 0.8
4.8 0.8
5.1 0.83
5.3 0.85
5.5 0.95
5.8 1.1
6.0 1.2
6.2 1.27
6.4 1.2
6.6 1.1
6.85 1.02
7.1 0.93
7.4 0.91
7.7 0.88
8.0 0.93
8.3 0.98
8.6 1.05
8.8 1.08
9.1 1.07
9.4 1.04
9.8 0.99
10.2 0.96
10.6 0.96
11.0 0.98
11.4 1.0
11.8 1.02
12.2 1.01
12.65 1.01
}\eSn

\pgfplotstableread{
r p lo hi
2.0 0.01 0 0.03
2.1 0.04 0.02 0.06
2.2 0.12 0.1 0.14
2.3 0.3 0.27 0.33
2.4 0.6 0.57 0.63
2.5 1.05 1.01 1.09
2.6 1.6 1.56 1.64
2.7 2.05 2.01 2.09
2.8 2.32 2.28 2.36
2.88 2.36 2.33 2.39
2.95 2.28 2.24 2.32
3.05 2.0 1.96 2.04
3.15 1.65 1.61 1.69
3.3 1.2 1.16 1.24
3.45 0.88 0.85 0.91
3.6 0.7 0.67 0.73
3.75 0.6 0.58 0.62
3.9 0.56 0.54 0.58
4.05 0.56 0.54 0.58
4.2 0.62 0.6 0.64
4.4 0.78 0.76 0.8
4.6 0.98 0.96 1.0
4.8 1.15 1.13 1.17
5.0 1.26 1.24 1.28
5.2 1.29 1.27 1.31
5.4 1.25 1.23 1.27
5.6 1.14 1.12 1.16
5.8 1.0 0.98 1.02
6.0 0.9 0.88 0.92
6.2 0.84 0.82 0.86
6.4 0.82 0.8 0.84
6.6 0.85 0.83 0.87
6.8 0.92 0.9 0.94
7.0 1.0 0.98 1.02
7.2 1.07 1.05 1.09
7.4 1.11 1.09 1.13
7.6 1.12 1.1 1.14
7.8 1.1 1.08 1.12
8.0 1.05 1.03 1.07
8.2 1.0 0.98 1.02
8.4 0.96 0.94 0.98
8.6 0.93 0.91 0.95
8.8 0.93 0.91 0.95
9.0 0.94 0.92 0.96
9.2 0.97 0.95 0.99
9.4 1.01 0.99 1.03
9.6 1.04 1.02 1.06
9.8 1.05 1.03 1.07
10.0 1.05 1.03 1.07
10.25 1.04 1.02 1.06
}\pTi
\pgfplotstableread{
r e
2.0 0.38
2.1 0.35
2.2 0.38
2.3 0.5
2.4 0.75
2.5 1.15
2.6 1.6
2.7 1.95
2.8 2.18
2.9 2.23
3.0 2.12
3.1 1.85
3.2 1.5
3.35 1.12
3.5 0.88
3.65 0.73
3.8 0.63
3.95 0.58
4.1 0.56
4.25 0.59
4.45 0.69
4.65 0.85
4.85 1.01
5.05 1.13
5.25 1.2
5.45 1.24
5.6 1.24
5.8 1.17
6.0 1.06
6.2 0.96
6.4 0.9
6.6 0.86
6.8 0.86
7.0 0.89
7.2 0.95
7.4 1.01
7.6 1.06
7.8 1.09
8.0 1.07
8.2 1.05
8.4 1.03
8.6 0.98
8.8 0.93
9.0 0.92
9.2 0.92
9.4 0.93
9.6 0.96
9.8 0.99
10.0 1.02
10.25 1.04
}\eTi

\pgfplotstableread{
r p lo hi
2.0 0.12 0.1 0.14
2.1 0.35 0.32 0.38
2.2 0.75 0.72 0.78
2.3 1.25 1.21 1.29
2.4 1.7 1.66 1.74
2.5 2.02 1.98 2.06
2.6 2.14 2.1 2.18
2.65 2.13 2.09 2.17
2.75 1.98 1.94 2.02
2.85 1.7 1.66 1.74
2.95 1.35 1.31 1.39
3.05 1.05 1.02 1.08
3.2 0.8 0.77 0.83
3.35 0.63 0.61 0.65
3.5 0.55 0.53 0.57
3.65 0.52 0.5 0.54
3.8 0.56 0.54 0.58
3.95 0.68 0.66 0.7
4.1 0.84 0.82 0.86
4.3 1.02 1.0 1.04
4.5 1.17 1.15 1.19
4.7 1.25 1.23 1.27
4.85 1.26 1.24 1.28
5.0 1.22 1.2 1.24
5.2 1.11 1.09 1.13
5.4 0.98 0.96 1.0
5.6 0.88 0.86 0.9
5.8 0.84 0.82 0.86
5.95 0.83 0.81 0.85
6.15 0.87 0.85 0.89
6.35 0.94 0.92 0.96
6.55 1.02 1.0 1.04
6.75 1.08 1.06 1.1
6.95 1.11 1.09 1.13
7.15 1.1 1.08 1.12
7.35 1.06 1.04 1.08
7.55 1.01 0.99 1.03
7.75 0.97 0.95 0.99
7.95 0.94 0.92 0.96
8.15 0.94 0.92 0.96
8.35 0.95 0.93 0.97
8.55 0.98 0.96 1.0
8.75 1.01 0.99 1.03
9.065 1.04 1.02 1.06
}\pV
\pgfplotstableread{
r e
2.0 0.09
2.1 0.2
2.2 0.35
2.3 0.55
2.4 0.85
2.5 1.4
2.6 1.95
2.7 2.22
2.78 2.28
2.85 2.15
2.95 1.85
3.05 1.45
3.15 1.15
3.25 1.05
3.35 0.93
3.45 0.83
3.6 0.74
3.75 0.68
3.9 0.67
4.05 0.7
4.2 0.76
4.35 0.85
4.48 0.95
4.52 1.0
4.6 1.0
4.75 1.08
4.9 1.15
5.05 1.17
5.2 1.17
5.35 1.14
5.5 1.07
5.7 0.98
5.9 0.93
6.1 0.9
6.3 0.9
6.5 0.92
6.7 0.95
6.9 0.99
7.1 1.03
7.3 1.04
7.5 1.05
7.7 1.04
7.9 1.02
8.1 1.0
8.3 0.98
8.5 0.97
8.7 0.97
9.065 0.98
}\eV

\pgfplotstableread{
r p lo hi
2.0 0 0 0
2.15 0 0 0.01
2.25 0.15 0.1 0.22
2.35 0.9 0.8 1.0
2.45 2.0 1.85 2.15
2.52 2.7 2.55 2.9
2.58 2.95 2.8 3.12
2.63 2.98 2.82 3.1
2.7 2.7 2.55 2.85
2.78 2.2 2.05 2.35
2.88 1.6 1.45 1.75
3.0 1.1 0.97 1.23
3.15 0.78 0.68 0.88
3.3 0.6 0.51 0.69
3.45 0.52 0.45 0.6
3.6 0.51 0.45 0.58
3.75 0.56 0.5 0.62
3.9 0.7 0.65 0.75
4.05 0.88 0.83 0.93
4.2 1.05 0.99 1.11
4.4 1.2 1.13 1.27
4.6 1.27 1.2 1.35
4.8 1.28 1.21 1.34
5.0 1.22 1.16 1.28
5.2 1.12 1.07 1.17
5.4 0.98 0.93 1.03
5.6 0.87 0.82 0.92
5.8 0.82 0.77 0.86
5.95 0.81 0.77 0.85
6.1 0.85 0.81 0.89
6.3 0.95 0.9 1.0
6.5 1.07 1.0 1.13
6.7 1.14 1.06 1.2
6.85 1.15 1.07 1.21
7.0 1.12 1.05 1.18
7.2 1.05 0.99 1.1
7.4 0.98 0.94 1.02
7.6 0.94 0.9 0.98
7.8 0.92 0.88 0.96
8.0 0.93 0.89 0.97
8.2 0.97 0.93 1.01
8.4 1.01 0.97 1.05
8.6 1.04 1.0 1.08
8.8 1.05 1.01 1.09
9.0 1.04 1.0 1.08
9.2 1.0 0.96 1.04
9.41 0.96 0.92 1.0
}\pZn
\pgfplotstableread{
r e
2.25 0.35
2.3 0.6
2.35 1.1
2.4 1.5
2.48 2.0
2.55 2.5
2.6 2.75
2.68 2.75
2.75 2.7
2.82 2.2
2.9 1.8
3.0 1.4
3.1 1.08
3.25 0.85
3.4 0.72
3.55 0.66
3.7 0.63
3.85 0.65
4.0 0.72
4.15 0.85
4.35 1.02
4.55 1.15
4.75 1.21
4.95 1.21
5.15 1.15
5.35 1.04
5.55 0.92
5.75 0.84
5.95 0.81
6.15 0.85
6.35 0.95
6.55 1.03
6.75 1.08
6.95 1.09
7.15 1.06
7.35 1.01
7.55 0.97
7.75 0.94
7.95 0.93
8.15 0.94
8.35 0.97
8.55 1.0
8.75 1.03
8.95 1.05
9.15 1.04
9.41 0.99
}\eZn

% ---------- common look of every panel ----------
\pgfplotsset{
  gpanel/.style={
    scale only axis, width=109.15pt, height=99.5pt, anchor=south west,
    axis line style={line width=0.4pt, black!85},
    every tick/.style={black!85, line width=0.35pt},
    major tick length=1.6pt, tick align=outside, tick pos=left,
    tick label style={font=\dejavu\fontsize{3.35}{4}\selectfont, black!85, inner sep=0.9pt},
    /pgf/number format/assume math mode=true,
    xticklabel style={/pgf/number format/.cd, fixed, precision=0},
    every axis title shift=0pt,
    title style={at={(axis description cs:0.7,0.896)}, anchor=base,
      font=\dejavu\bfseries\fontsize{7.8}{9}\selectfont, inner sep=0pt},
    ylabel style={at={(axis description cs:-0.097,0.5)}, anchor=center,
      font=\dejavu\fontsize{8.2}{9}\selectfont, inner sep=0pt},
    xlabel style={at={(axis description cs:0.5,-0.109)}, anchor=center,
      font=\dejavu\fontsize{8}{9}\selectfont, inner sep=0pt},
  },
  yone/.style={yticklabel style={/pgf/number format/.cd, fixed, fixed zerofill, precision=1}},
  ytwo/.style={yticklabel style={/pgf/number format/.cd, fixed, fixed zerofill, precision=2}},
  yint/.style={yticklabel style={/pgf/number format/.cd, fixed, precision=0}},
  gy/.style={ylabel={g(r)}},
  gx/.style={xlabel={r (Å)}},
  legline/.style={legend image code/.code={\draw[##1] (0pt,0pt) -- (15pt,0pt);}},
  legarea/.style={legend image code/.code={\fill[##1] (0pt,-2.9pt) rectangle (15pt,2.9pt);}},
}

% Exp line, PET-UAFD line and its UQ band, from one pair of tables
\newcommand\gcurves[3]{%
  \addplot[forget plot, black, line width=0.55pt, smooth, tension=0.5] table[x=r,y=e] {#2};
  \addplot[forget plot, tabblue, line width=0.55pt, smooth, tension=0.5] table[x=r,y=p] {#1};
  \addplot[forget plot, name path=hi#3, draw=none, smooth, tension=0.5] table[x=r,y=hi] {#1};
  \addplot[forget plot, name path=lo#3, draw=none, smooth, tension=0.5] table[x=r,y=lo] {#1};
  \addplot[forget plot, fill=tabblue, fill opacity=0.3, draw=none] fill between[of=hi#3 and lo#3];
}

\begin{document}
\begin{tikzpicture}
\path (0,0) rectangle (510.5pt,698pt);
\node[anchor=north east, inner sep=0pt, font=\fontsize{8.5}{10}\selectfont] at (504.3pt,694.6pt) {8};

% ---------------- row 1 ----------------
\begin{axis}[gpanel, gy, yint, at={(20.85pt,568.85pt)}, title={As 1098 K},
  xmin=2, xmax=7, ymin=-0.225, ymax=4.725, xtick={2,3,4,5,6,7}, ytick={0,1,2,3,4}]
\gcurves{\pAs}{\eAs}{As}
\end{axis}
\begin{axis}[gpanel, yone, at={(145pt,568.85pt)}, title={Bi 573 K},
  xmin=2, xmax=11.31, ymin=-0.148, ymax=3.13, xtick={2,4,6,8,10}, ytick={0,0.5,1,1.5,2,2.5,3}]
\gcurves{\pBi}{\eBi}{Bi}
\end{axis}
\begin{axis}[gpanel, yone, at={(269pt,568.85pt)}, title={Co 1823 K},
  xmin=2, xmax=8.82, ymin=-0.13, ymax=2.72, xtick={2,3,4,5,6,7,8}, ytick={0,0.5,1,1.5,2,2.5}]
\gcurves{\pCo}{\eCo}{Co}
\end{axis}
\begin{axis}[gpanel, at={(393pt,568.85pt)}, title={Cr 2173 K},
  xmin=2, xmax=8.66, ymin=-1.01, ymax=2.61, xtick={2,3,4,5,6,7,8},
  ytick={-1,-0.5,0,0.5,1,1.5,2,2.5},
  yticklabels={−1.0,−0.5,0.0,0.5,1.0,1.5,2.0,2.5},
  legend cell align=left,
  legend style={at={(0.967,0.037)}, anchor=south east,
    font=\dejavu\fontsize{6.85}{8}\selectfont, draw=black!20, rounded corners=1.2pt,
    inner xsep=2.6pt, inner ysep=2.6pt, row sep=3.7pt,
    nodes={inner sep=0pt, text height=5.1pt, text depth=1.3pt},
    /tikz/every odd column/.append style={column sep=5.5pt}}]
\addlegendimage{legline, black, line width=0.55pt}
\addlegendentry{Exp}
\addlegendimage{legline, tabblue, line width=0.55pt}
\addlegendentry{PET-UAFD}
\addlegendimage{legarea, fill=tabblue, fill opacity=0.3, draw=none}
\addlegendentry{PET-UAFD UQ}
\gcurves{\pCr}{\eCr}{Cr}
\end{axis}

% ---------------- row 2 ----------------
\begin{axis}[gpanel, gy, yone, at={(20.85pt,458.85pt)}, title={Cu 1423 K},
  xmin=2, xmax=9, ymin=-0.14, ymax=2.98, xtick={2,3,4,5,6,7,8,9}, ytick={0,0.5,1,1.5,2,2.5}]
\gcurves{\pCu}{\eCu}{Cu}
\end{axis}
\begin{axis}[gpanel, yone, at={(145pt,458.85pt)}, title={Fe 1873 K},
  xmin=2, xmax=8.63, ymin=-0.13, ymax=2.77, xtick={2,3,4,5,6,7,8}, ytick={0,0.5,1,1.5,2,2.5}]
\gcurves{\pFe}{\eFe}{Fe}
\end{axis}
\begin{axis}[gpanel, at={(269pt,458.85pt)}, title={Ga 326 K},
  xmin=2, xmax=8.82, ymin=-0.585, ymax=3.83, xtick={2,3,4,5,6,7,8},
  ytick={-0.5,0,0.5,1,1.5,2,2.5,3,3.5},
  yticklabels={−0.5,0.0,0.5,1.0,1.5,2.0,2.5,3.0,3.5}]
\gcurves{\pGaA}{\eGaA}{GaA}
\end{axis}
\begin{axis}[gpanel, yone, at={(393pt,458.85pt)}, title={Ga 959 K},
  xmin=2, xmax=8.93, ymin=-0.12, ymax=2.527, xtick={2,3,4,5,6,7,8}, ytick={0,0.5,1,1.5,2,2.5}]
\gcurves{\pGaB}{\eGaB}{GaB}
\end{axis}

% ---------------- row 3 ----------------
\begin{axis}[gpanel, gy, yone, at={(20.85pt,348.85pt)}, title={GaAs 1511 K},
  xmin=2, xmax=5.69, ymin=-0.333, ymax=2.43,
  xtick={2,2.5,3,3.5,4,4.5,5,5.5},
  xticklabel style={/pgf/number format/.cd, fixed, fixed zerofill, precision=1},
  ytick={0,0.5,1,1.5,2}]
\gcurves{\pGaAs}{\eGaAs}{GaAs}
\end{axis}
\begin{axis}[gpanel, yone, at={(145pt,348.85pt)}, title={Ge 1253 K},
  xmin=2, xmax=8, ymin=-0.116, ymax=2.45, xtick={2,3,4,5,6,7,8}, ytick={0,0.5,1,1.5,2}]
\gcurves{\pGe}{\eGe}{Ge}
\end{axis}
\begin{axis}[gpanel, yone, at={(269pt,348.85pt)}, title={H2O 298 K},
  xmin=1, xmax=6, ymin=-0.172, ymax=3.246, xtick={1,2,3,4,5,6}, ytick={0,0.5,1,1.5,2,2.5,3}]
\gcurves{\pHO}{\eHO}{HO}
\end{axis}
\begin{axis}[gpanel, at={(393pt,348.85pt)}, title={Mn 1533 K},
  xmin=2, xmax=10.04, ymin=-1.078, ymax=3.59, xtick={2,3,4,5,6,7,8,9,10},
  ytick={-1,0,1,2,3}, yticklabels={−1,0,1,2,3}]
\gcurves{\pMn}{\eMn}{Mn}
\end{axis}

% ---------------- row 4 ----------------
\begin{axis}[gpanel, gy, yone, at={(20.85pt,238.85pt)}, title={Na 378 K},
  xmin=2, xmax=12.65, ymin=-0.131, ymax=2.767, xtick={2,4,6,8,10,12}, ytick={0,0.5,1,1.5,2,2.5}]
\gcurves{\pNaA}{\eNaA}{NaA}
\end{axis}
\begin{axis}[gpanel, yone, at={(145pt,238.85pt)}, title={Na 573 K},
  xmin=2, xmax=12.72, ymin=-0.11, ymax=2.336, xtick={2,4,6,8,10,12}, ytick={0,0.5,1,1.5,2}]
\gcurves{\pNaB}{\eNaB}{NaB}
\end{axis}
\begin{axis}[gpanel, ytwo, at={(269pt,238.85pt)}, title={Na 823 K},
  xmin=2, xmax=12.65, ymin=-0.13, ymax=2.025, xtick={2,4,6,8,10,12},
  ytick={0,0.25,0.5,0.75,1,1.25,1.5,1.75,2}]
\gcurves{\pNaC}{\eNaC}{NaC}
\end{axis}
\begin{axis}[gpanel, ytwo, at={(393pt,238.85pt)}, title={NaCl 1083 K (*)},
  title style={at={(axis description cs:0.6,0.896)}},
  xmin=2, xmax=8, ymin=-0.106, ymax=2.084, xtick={2,3,4,5,6,7,8},
  ytick={0,0.25,0.5,0.75,1,1.25,1.5,1.75,2}]
\gcurves{\pNaCl}{\eNaCl}{NaCl}
\end{axis}

% ---------------- row 5 ----------------
\begin{axis}[gpanel, gy, yone, at={(20.85pt,128.85pt)}, title={Ni 1773 K},
  xmin=2, xmax=8.68, ymin=-0.148, ymax=2.89, xtick={2,3,4,5,6,7,8}, ytick={0,0.5,1,1.5,2,2.5}]
\gcurves{\pNi}{\eNi}{Ni}
\end{axis}
\begin{axis}[gpanel, yone, at={(145pt,128.85pt)}, title={Sb 933 K},
  xmin=2, xmax=8, ymin=-0.129, ymax=2.625, xtick={2,3,4,5,6,7,8}, ytick={0,0.5,1,1.5,2,2.5}]
\gcurves{\pSb}{\eSb}{Sb}
\end{axis}
\begin{axis}[gpanel, yone, at={(269pt,128.85pt)}, title={Sc 1833 K (*)},
  xmin=2, xmax=11.65, ymin=-0.469, ymax=2.64, xtick={2,4,6,8,10}, ytick={0,0.5,1,1.5,2,2.5}]
\gcurves{\pSc}{\eSc}{Sc}
\end{axis}
\begin{axis}[gpanel, yone, at={(393pt,128.85pt)}, title={Si 1733 K},
  xmin=2, xmax=7, ymin=-0.239, ymax=2.615, xtick={2,3,4,5,6,7}, ytick={0,0.5,1,1.5,2,2.5}]
\gcurves{\pSi}{\eSi}{Si}
\end{axis}

% ---------------- row 6 ----------------
\begin{axis}[gpanel, gy, gx, yone, at={(20.85pt,18.85pt)}, title={Sn 573 K},
  xmin=2, xmax=12.65, ymin=-0.167, ymax=3.155, xtick={2,4,6,8,10,12}, ytick={0,0.5,1,1.5,2,2.5,3}]
\gcurves{\pSn}{\eSn}{Sn}
\end{axis}
\begin{axis}[gpanel, gx, yone, at={(145pt,18.85pt)}, title={Ti 1973 K},
  xmin=2, xmax=10.25, ymin=-0.122, ymax=2.485, xtick={2,3,4,5,6,7,8,9,10}, ytick={0,0.5,1,1.5,2}]
\gcurves{\pTi}{\eTi}{Ti}
\end{axis}
\begin{axis}[gpanel, gx, yone, at={(269pt,18.85pt)}, title={V 2173 K (*)},
  xmin=2, xmax=9.065, ymin=-0.123, ymax=2.40, xtick={2,3,4,5,6,7,8,9}, ytick={0,0.5,1,1.5,2}]
\gcurves{\pV}{\eV}{V}
\end{axis}
\begin{axis}[gpanel, gx, yone, at={(393pt,18.85pt)}, title={Zn 723 K},
  xmin=2, xmax=9.41, ymin=-0.167, ymax=3.277, xtick={2,3,4,5,6,7,8,9}, ytick={0,0.5,1,1.5,2,2.5,3}]
\gcurves{\pZn}{\eZn}{Zn}
\end{axis}
\end{tikzpicture}
\end{document}
